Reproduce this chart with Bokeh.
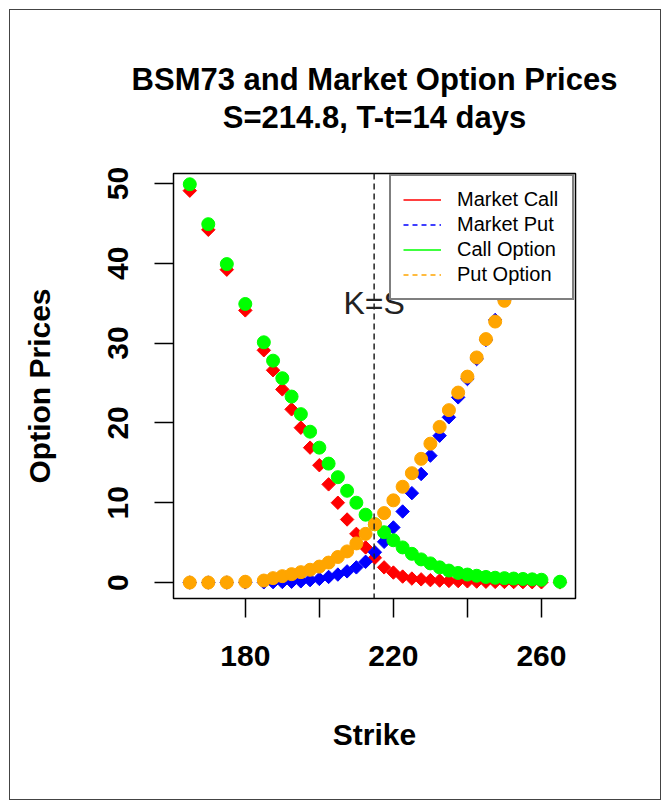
from bokeh.plotting import figure
from bokeh.models import (Range1d, FixedTicker, Span, Label, Legend, LegendItem, Title)
from bokeh.embed import file_html
from bokeh.resources import INLINE

# ---- data ----
strikes = [165, 170, 175, 180, 185, 187.5, 190, 192.5, 195, 197.5, 200, 202.5,
           205, 207.5, 210, 212.5, 215, 217.5, 220, 222.5, 225, 227.5, 230, 232.5,
           235, 237.5, 240, 242.5, 245, 247.5, 250, 252.5, 255, 257.5, 260, 265]

market_call = [49.1, 44.2, 39.2, 34.1, 29.1, 26.6, 24.2, 21.7, 19.4, 16.9, 14.7, 12.3,
               10.0, 7.9, 6.1, 4.4, 3.1, 1.9, 1.25, 0.75, 0.5, 0.4, 0.3, 0.25,
               0.2, 0.18, 0.15, 0.12, 0.1, 0.08, 0.07, 0.06, 0.05, 0.04, 0.03, 0.02]

market_put = [0.0, 0.0, 0.0, 0.02, 0.03, 0.05, 0.07, 0.1, 0.15, 0.3, 0.45, 0.7,
              1.0, 1.4, 1.9, 2.6, 3.8, 5.1, 6.9, 8.9, 11.2, 13.6, 15.9, 18.4,
              20.7, 23.2, 25.5, 28.0, 30.4, 32.9, 35.4, 37.8, 40.3, 42.8, 45.3, 50.2]

call_option = [49.9, 44.9, 39.9, 34.9, 30.1, 27.8, 25.6, 23.3, 21.1, 18.9, 16.9, 14.9,
               13.2, 11.5, 10.0, 8.5, 7.3, 6.3, 5.3, 4.4, 3.6, 2.9, 2.4, 1.9,
               1.5, 1.2, 1.0, 0.85, 0.7, 0.6, 0.55, 0.5, 0.45, 0.4, 0.35, 0.1]

put_option = [0.0, 0.0, 0.02, 0.1, 0.25, 0.55, 0.8, 1.05, 1.3, 1.6, 2.0, 2.5,
              3.2, 3.9, 4.9, 6.1, 7.3, 8.7, 10.3, 12.0, 13.7, 15.5, 17.4, 19.5,
              21.6, 23.8, 25.8, 28.2, 30.5, 32.7, 35.3, 37.7, 40.2, 42.7, 45.2, 50.2]

spot = 214.8
x_ticks = [180, 200, 220, 240, 260]
y_ticks = [0, 10, 20, 30, 40, 50]
legend_labels = ["Market Call", "Market Put", "Call Option", "Put Option"]
title_line1 = "BSM73 and Market Option Prices"
title_line2 = "S=214.8, T-t=14 days"

FONT = "Liberation Sans"

p = figure(width=670, height=809, output_backend="svg", toolbar_location=None,
           title=None,
           x_range=Range1d(160.6, 269.2), y_range=Range1d(-2.0, 51.25),
           min_border_left=173, min_border_right=95,
           min_border_top=173, min_border_bottom=211)
p.border_fill_color = None
p.styles = {"background-color": "white",
            "box-shadow": "inset 0 0 0 9px white, inset 0 0 0 10px #444444"}
p.background_fill_color = "white"
p.xgrid.visible = False
p.ygrid.visible = False
p.outline_line_color = "black"
p.outline_line_width = 1.5
p.outline_line_alpha = 1.0

for ax in (p.xaxis[0], p.yaxis[0]):
    ax.axis_line_color = None
    ax.minor_tick_line_color = None
    ax.major_tick_in = 0
    ax.major_tick_out = 19
    ax.major_tick_line_color = "black"
    ax.major_tick_line_width = 1.5
    ax.major_label_text_font = FONT
    ax.major_label_text_font_style = "bold"
    ax.major_label_text_font_size = "30px"
    ax.major_label_text_color = "black"
    ax.axis_label_text_font = FONT
    ax.axis_label_text_font_style = "bold"
    ax.axis_label_text_font_size = "30px"
    ax.axis_label_text_color = "black"

p.xaxis.ticker = FixedTicker(ticks=x_ticks)
p.xaxis.major_label_overrides = {200: "", 240: ""}
p.xaxis.major_label_standoff = 28
p.xaxis.axis_label = "Strike"
p.xaxis.axis_label_standoff = 49

p.yaxis.ticker = FixedTicker(ticks=y_ticks)
p.yaxis.major_label_orientation = "vertical"
p.yaxis.major_label_standoff = 26
p.yaxis.axis_label = "Option Prices"
p.yaxis.axis_label_standoff = 50

# K=S line and label
p.add_layout(Span(location=spot, dimension="height", line_color="#222222",
                  line_dash="6 4", line_width=1.5))
p.add_layout(Label(x=spot, y=35, text="K=S", text_align="center",
                   text_baseline="middle", text_font=FONT,
                   text_font_size="32px", text_color="#222222"))

# points
p.scatter(strikes, market_call, marker="square", angle=0.785398, size=9.5,
          fill_color="red", line_color="red")
p.scatter(strikes, market_put, marker="square", angle=0.785398, size=9.5,
          fill_color="blue", line_color="blue")
p.scatter(strikes, call_option, marker="circle", size=13,
          fill_color="#00FF00", line_color="#00FF00")
p.scatter(strikes, put_option, marker="circle", size=13,
          fill_color="orange", line_color="orange")

# legend (line samples; dummy renderers placed outside the visible range)
dummy_x = [0, 1]
dummy_y = [-100, -100]
l1 = p.line(dummy_x, dummy_y, line_color="red", line_width=1.3)
l2 = p.line(dummy_x, dummy_y, line_color="blue", line_width=1.3, line_dash="5 4")
l3 = p.line(dummy_x, dummy_y, line_color="#00FF00", line_width=1.3)
l4 = p.line(dummy_x, dummy_y, line_color="orange", line_width=1.3, line_dash="5 4")
legend = Legend(items=[LegendItem(label=legend_labels[0], renderers=[l1]),
                       LegendItem(label=legend_labels[1], renderers=[l2]),
                       LegendItem(label=legend_labels[2], renderers=[l3]),
                       LegendItem(label=legend_labels[3], renderers=[l4])],
                location="top_right", margin=1, padding=12, spacing=2,
                glyph_width=38, glyph_height=21, label_height=21,
                label_width=103, label_standoff=16,
                label_text_font=FONT, label_text_font_size="20px",
                label_text_color="black",
                border_line_color="black", border_line_width=2,
                background_fill_color="white", background_fill_alpha=1.0)
p.add_layout(legend)

# two-line title (lines centred)
title_kwargs = dict(text=title_line1 + "\n" + title_line2, align="center",
                    vertical_align="middle", standoff=75,
                    text_line_height=1.08,
                    text_font=FONT, text_font_style="bold", text_font_size="31px",
                    text_color="black")
if "text_align" in Title.properties():
    title_kwargs["text_align"] = "center"
title = Title(**title_kwargs)
p.add_layout(title, "above")

open("out.html", "w").write(file_html(p, INLINE))
